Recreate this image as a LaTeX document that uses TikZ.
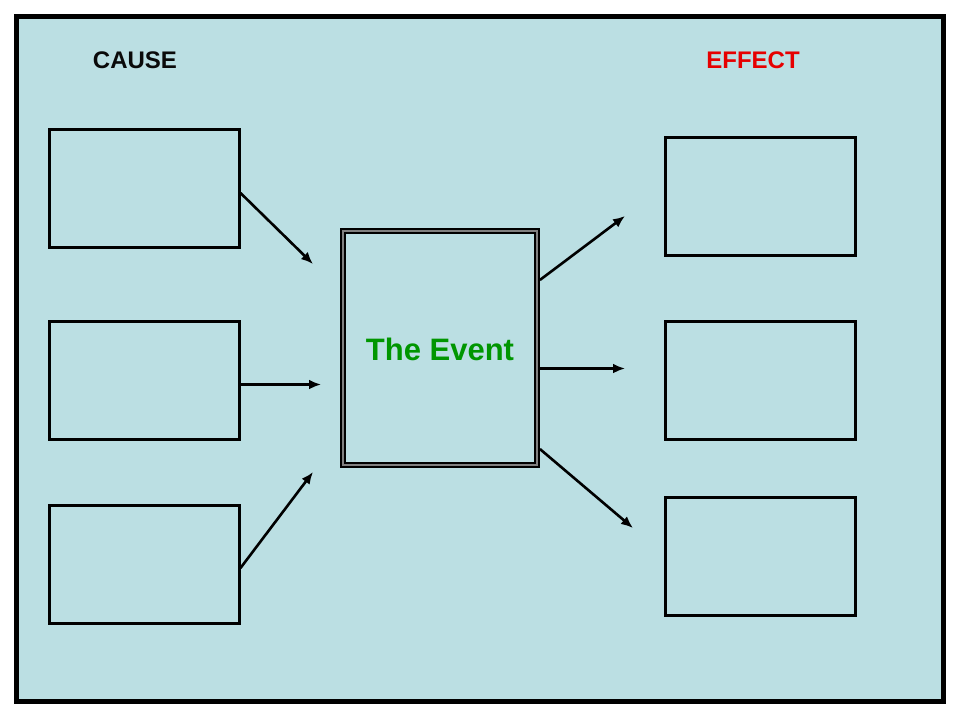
\documentclass[tikz,border=0pt]{standalone}
\usepackage{fontspec}
\setmainfont{Liberation Sans}
\usetikzlibrary{arrows.meta,positioning,calc}
\usepackage{xcolor}
\definecolor{boardblue}{RGB}{187,223,227}
\definecolor{causeblack}{RGB}{10,10,10}
\definecolor{effectred}{RGB}{230,0,0}
\definecolor{eventgreen}{RGB}{0,150,0}
\tikzset{
    slot/.style={rectangle, draw, line width=3pt, minimum width=190pt, minimum height=118pt, inner sep=0pt},
    eventbox/.style={rectangle, draw, line width=1.8pt, minimum width=198pt, minimum height=238pt, inner sep=0pt, align=center},
    link/.style={line width=2.6pt, -{Latex[length=12pt,width=10pt]}},
    heading/.style={font=\bfseries\fontsize{24}{28}\selectfont}
}
\begin{document}
\begin{tikzpicture}[x=1pt,y=-1pt]
    % page and board
    \fill[white] (0,0) rectangle (960,720);
    \filldraw[fill=boardblue, draw=black, line width=5pt] (16.5,16.5) rectangle (943.5,701.5);
    % headings
    \node[heading, text=causeblack] (cause) at (135,60) {CAUSE};
    \node[heading, text=effectred] (effect) at (753,60) {EFFECT};
    % cause boxes
    \node[slot] (c1) at (144,188) {};
    \node[slot] (c2) at (144,380) {};
    \node[slot] (c3) at (144,564) {};
    % effect boxes
    \node[slot] (e1) at (760,196) {};
    \node[slot] (e2) at (760,380) {};
    \node[slot] (e3) at (760,556) {};
    % the event, framed three times
    \node[eventbox, draw=black] (event) at (440,348) {};
    \draw[gray, line width=1.8pt] ($(event.north west)+(2.6,2.6)$) rectangle ($(event.south east)+(-2.6,-2.6)$);
    \draw[black, line width=1.8pt] ($(event.north west)+(5,5)$) rectangle ($(event.south east)+(-5,-5)$);
    \node[font=\bfseries\fontsize{31}{36}\selectfont, text=eventgreen] (title) at (440,349) {The Event};
    % free ends
    \coordinate (c1end) at (313,264);
    \coordinate (c2end) at (321,384.5);
    \coordinate (c3end) at (313,472);
    \coordinate (e1end) at (625,216);
    \coordinate (e2end) at (625,368.5);
    \coordinate (e3end) at (633,528);
    % arrows
    \draw[link] ([yshift=-5]c1.east) -- (c1end);
    \draw[link] ([yshift=-4.5]c2.east) -- (c2end);
    \draw[link] ([yshift=-4]c3.east) -- (c3end);
    \draw[link] ([yshift=68]event.east) -- (e1end);
    \draw[link] ([yshift=-20.5]event.east) -- (e2end);
    \draw[link] ([yshift=-101]event.east) -- (e3end);
\end{tikzpicture}
\end{document}
